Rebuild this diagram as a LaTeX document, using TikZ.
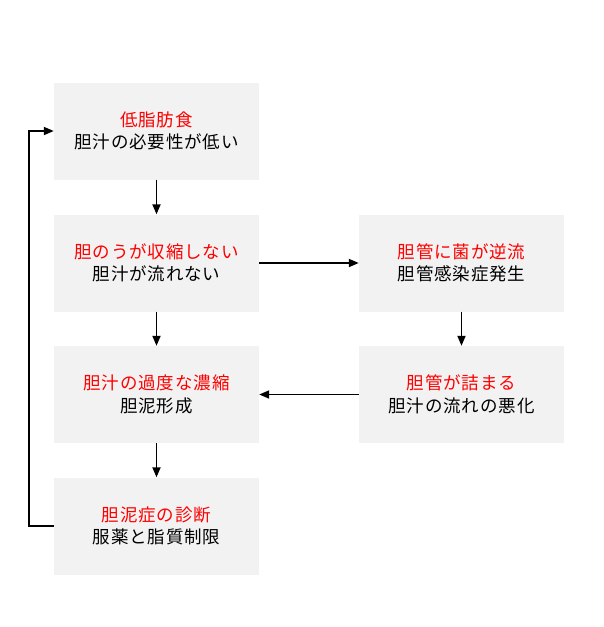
\documentclass[tikz,border=0pt]{standalone}
\usepackage{fontspec}
\newfontfamily\cjk[LetterSpace=5]{Noto Sans CJK JP}
\usetikzlibrary{arrows.meta}
\definecolor{boxgray}{HTML}{F2F2F2}
\definecolor{redtxt}{HTML}{FF0000}
\tikzset{
  box/.style={fill=boxgray, minimum width=205pt, minimum height=97pt, inner sep=0pt, align=center,
    font=\cjk\fontsize{17.5pt}{22.5pt}\selectfont},
  conn/.style={line width=1.8pt, -{Triangle[length=10pt,width=8pt]}}
}
\newcommand{\rt}[1]{\textcolor{redtxt}{#1}}
\begin{document}
\begin{tikzpicture}[x=1pt,y=-1pt]
\useasboundingbox (0,0) rectangle (604,627);
\node[box] (a) at (156.5,131) {\rt{低脂肪食}\\胆汁の必要性が低い};
\node[box] (b) at (156.5,263) {\rt{胆のうが収縮しない}\\胆汁が流れない};
\node[box] (c) at (156.5,394.5) {\rt{胆汁の過度な濃縮}\\胆泥形成};
\node[box] (d) at (156.5,526) {\rt{胆泥症の診断}\\服薬と脂質制限};
\node[box] (e) at (461.5,263) {\rt{胆管に菌が逆流}\\胆管感染症発生};
\node[box] (f) at (461.5,394.5) {\rt{胆管が詰まる}\\胆汁の流れの悪化};
\draw[conn] (a) -- (b);
\draw[conn] (b) -- (c);
\draw[conn] (c) -- (d);
\draw[conn] (b) -- (e);
\draw[conn] (e) -- (f);
\draw[conn] (f) -- (c);
\coordinate (lb) at (29,526);
\coordinate (lt) at (29,131);
\draw[conn] (d.west) -- (lb) -- (lt) -- (a.west);
\end{tikzpicture}
\end{document}
